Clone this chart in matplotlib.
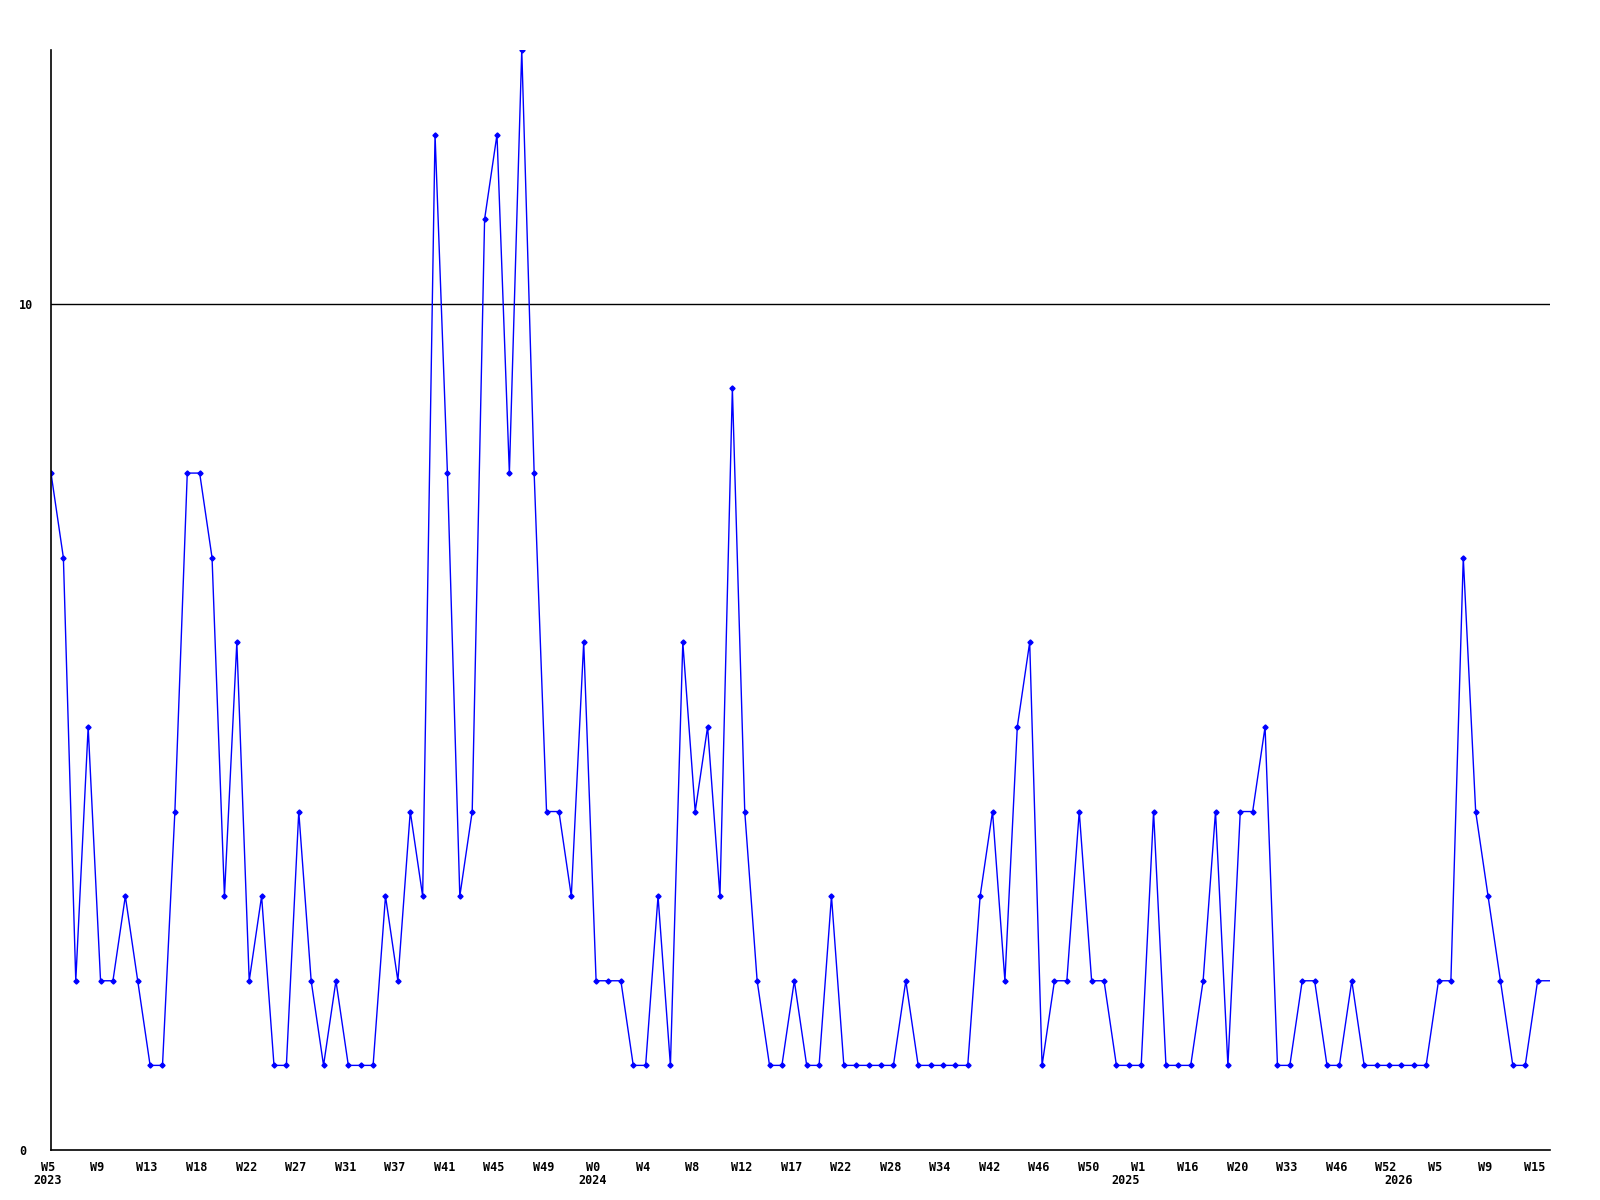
import numpy as np
import matplotlib
matplotlib.use("Agg")
import matplotlib.pyplot as plt
import matplotlib.transforms as mtransforms

# weekly counts (last value is the running week, drawn without marker)
counts = [8, 7, 2, 5, 2, 2, 3, 2, 1, 1, 4, 8, 8, 7, 3, 6, 2, 3, 1, 1,
          4, 2, 1, 2, 1, 1, 1, 3, 2, 4, 3, 12, 8, 3, 4, 11, 12, 8, 13, 8,
          4, 4, 3, 6, 2, 2, 2, 1, 1, 3, 1, 6, 4, 5, 3, 9, 4, 2, 1, 1,
          2, 1, 1, 3, 1, 1, 1, 1, 1, 2, 1, 1, 1, 1, 1, 3, 4, 2, 5, 6,
          1, 2, 2, 4, 2, 2, 1, 1, 1, 4, 1, 1, 1, 2, 4, 1, 4, 4, 5, 1,
          1, 2, 2, 1, 1, 2, 1, 1, 1, 1, 1, 1, 2, 2, 7, 4, 3, 2, 1, 1,
          2, 2]

week_labels = ["W5", "W9", "W13", "W18", "W22", "W27", "W31", "W37", "W41", "W45",
               "W49", "W0", "W4", "W8", "W12", "W17", "W22", "W28", "W34", "W42",
               "W46", "W50", "W1", "W16", "W20", "W33", "W46", "W52", "W5", "W9",
               "W15"]
label_step = 4

years = ["2023", "2024", "2025", "2026"]
year_pos = [0, 44, 87, 109]

x = np.arange(len(counts))

fig = plt.figure(figsize=(16, 12), dpi=100)
ax = fig.add_axes([51 / 1600, 50 / 1200, 1499 / 1600, 1100 / 1200])

ax.plot(x, counts, color="#0000ff", linewidth=1.0, marker="D", markersize=2.6,
        markevery=list(range(len(counts) - 1)), markerfacecolor="#0000ff",
        markeredgecolor="#0000ff")
ax.axhline(10, color="black", linewidth=1.0, zorder=0)

ax.set_xlim(0, len(counts) - 1)
ax.set_ylim(0, 13)

for s in ["top", "right"]:
    ax.spines[s].set_visible(False)
for s in ["left", "bottom"]:
    ax.spines[s].set_linewidth(1.2)

font = dict(family="DejaVu Sans Mono", fontweight="bold", fontsize=8.5)

ax.set_yticks([0, 10])
ax.set_yticklabels(["0", "10"], **font)
ax.tick_params(axis="y", length=0, pad=23)
for t in ax.get_yticklabels():
    t.set_horizontalalignment("left")

ax.set_xticks(x[::label_step][:len(week_labels)])
ax.set_xticklabels(week_labels, **font)
ax.tick_params(axis="x", length=0, pad=8)
offset = mtransforms.ScaledTranslation(-3 / 100, 0, fig.dpi_scale_trans)
for t in ax.get_xticklabels():
    t.set_transform(t.get_transform() + offset)

trans = mtransforms.blended_transform_factory(ax.transData, ax.transAxes)
for yr, p in zip(years, year_pos):
    ax.text(p, -0.028, yr, transform=trans + offset, ha="center", va="center", **font)

fig.savefig("out.png", dpi=100, facecolor="white")
